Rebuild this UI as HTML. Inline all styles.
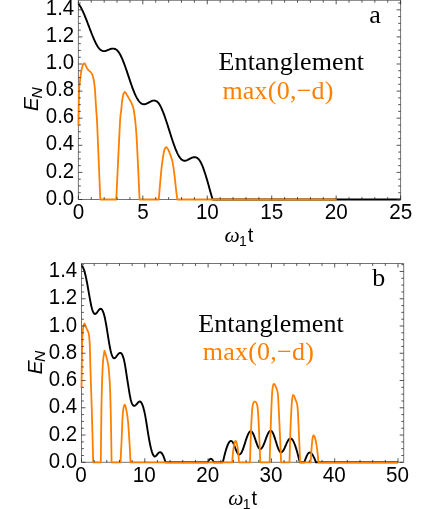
<!DOCTYPE html>
<html><head><meta charset="utf-8"><title>Entanglement</title>
<style>
html,body{margin:0;padding:0;background:#fff;}
body{width:436px;height:509px;overflow:hidden;font-family:"Liberation Sans",sans-serif;}
svg{display:block;}
.tl text{font-family:"Liberation Sans",sans-serif;fill:#000;}
.serif{font-family:"Liberation Serif",serif;font-size:26px;}
</style></head>
<body>
<svg width="436" height="509" viewBox="0 0 436 509" style="will-change:transform">
<rect width="436" height="509" fill="#fff"/>
<!-- plot a -->
<path d="M78.4,0.3H400.6V199.5H78.4Z" fill="none" stroke="#505050" stroke-width="0.8"/>
<path d="M78.50,3.90L79.00,4.52L79.50,5.22L80.00,5.97L80.50,6.79L81.00,7.67L81.50,8.60L82.00,9.58L82.50,10.61L83.00,11.68L83.50,12.80L84.00,13.94L84.50,15.13L85.00,16.34L85.51,17.58L86.01,18.84L86.51,20.12L87.01,21.42L87.51,22.73L88.01,24.05L88.51,25.37L89.01,26.70L89.51,28.03L90.01,29.35L90.51,30.66L91.01,31.96L91.51,33.24L92.01,34.51L92.51,35.75L93.01,36.96L93.51,38.15L94.01,39.31L94.51,40.42L95.01,41.50L95.51,42.54L96.01,43.53L96.51,44.46L97.01,45.35L97.51,46.17L98.01,46.94L98.51,47.64L99.02,48.28L99.52,48.85L100.02,49.35L100.52,49.79L101.02,50.17L101.52,50.48L102.02,50.73L102.52,50.92L103.02,51.05L103.52,51.12L104.02,51.13L104.52,51.10L105.02,51.02L105.52,50.90L106.02,50.76L106.52,50.58L107.02,50.39L107.52,50.19L108.02,49.98L108.52,49.77L109.02,49.56L109.52,49.36L110.02,49.18L110.52,49.02L111.02,48.88L111.52,48.76L112.03,48.67L112.53,48.62L113.03,48.60L113.53,48.63L114.03,48.69L114.53,48.81L115.03,48.98L115.53,49.20L116.03,49.49L116.53,49.84L117.03,50.25L117.53,50.74L118.03,51.30L118.53,51.94L119.03,52.66L119.53,53.45L120.03,54.32L120.53,55.25L121.03,56.25L121.53,57.31L122.03,58.43L122.53,59.60L123.03,60.82L123.53,62.08L124.03,63.38L124.53,64.73L125.03,66.11L125.54,67.52L126.04,68.95L126.54,70.41L127.04,71.89L127.54,73.38L128.04,74.88L128.54,76.39L129.04,77.90L129.54,79.40L130.04,80.90L130.54,82.38L131.04,83.84L131.54,85.28L132.04,86.69L132.54,88.06L133.04,89.40L133.54,90.70L134.04,91.95L134.54,93.15L135.04,94.29L135.54,95.38L136.04,96.40L136.54,97.36L137.04,98.26L137.54,99.10L138.04,99.88L138.54,100.60L139.05,101.26L139.55,101.85L140.05,102.37L140.55,102.84L141.05,103.24L141.55,103.57L142.05,103.84L142.55,104.04L143.05,104.18L143.55,104.25L144.05,104.26L144.55,104.21L145.05,104.12L145.55,103.98L146.05,103.81L146.55,103.60L147.05,103.37L147.55,103.13L148.05,102.86L148.55,102.59L149.05,102.32L149.55,102.05L150.05,101.79L150.55,101.55L151.05,101.32L151.55,101.11L152.05,100.93L152.56,100.78L153.06,100.67L153.56,100.60L154.06,100.57L154.56,100.60L155.06,100.67L155.56,100.81L156.06,101.01L156.56,101.28L157.06,101.63L157.56,102.05L158.06,102.55L158.56,103.14L159.06,103.82L159.56,104.59L160.06,105.44L160.56,106.36L161.06,107.36L161.56,108.43L162.06,109.57L162.56,110.76L163.06,112.01L163.56,113.31L164.06,114.66L164.56,116.05L165.06,117.48L165.56,118.95L166.07,120.44L166.57,121.96L167.07,123.50L167.57,125.06L168.07,126.63L168.57,128.21L169.07,129.80L169.57,131.39L170.07,132.97L170.57,134.55L171.07,136.11L171.57,137.67L172.07,139.20L172.57,140.71L173.07,142.19L173.57,143.64L174.07,145.05L174.57,146.43L175.07,147.76L175.57,149.05L176.07,150.28L176.57,151.46L177.07,152.58L177.57,153.63L178.07,154.62L178.57,155.54L179.07,156.38L179.58,157.15L180.08,157.84L180.58,158.46L181.08,159.00L181.58,159.47L182.08,159.87L182.58,160.20L183.08,160.45L183.58,160.62L184.08,160.73L184.58,160.77L185.08,160.75L185.58,160.67L186.08,160.55L186.58,160.38L187.08,160.18L187.58,159.95L188.08,159.70L188.58,159.44L189.08,159.17L189.58,158.90L190.08,158.63L190.58,158.37L191.08,158.13L191.58,157.90L192.08,157.70L192.59,157.53L193.09,157.38L193.59,157.28L194.09,157.21L194.59,157.19L195.09,157.22L195.59,157.30L196.09,157.44L196.59,157.64L197.09,157.91L197.59,158.25L198.09,158.67L198.59,159.17L199.09,159.75L199.59,160.42L200.09,161.19L200.59,162.05L201.09,163.01L201.59,164.06L202.09,165.19L202.59,166.41L203.09,167.69L203.59,169.05L204.09,170.48L204.59,171.96L205.09,173.50L205.59,175.08L206.10,176.71L206.60,178.38L207.10,180.09L207.60,181.82L208.10,183.58L208.60,185.35L209.10,187.14L209.60,188.94L210.10,190.74L210.60,192.53L211.10,194.31L211.60,196.07L212.10,197.80L212.60,199.50L212.60,199.50L400.60,199.50" fill="none" stroke="#000" stroke-width="1.9" stroke-linejoin="round"/>
<path d="M78.50,126.00C78.60,120.08 78.83,98.15 79.10,90.50C79.37,82.85 79.75,83.20 80.10,80.10C80.45,77.00 80.78,74.28 81.20,71.90C81.62,69.52 82.20,67.13 82.60,65.80C83.00,64.47 83.28,64.30 83.60,63.90C83.92,63.50 84.20,63.28 84.50,63.40C84.80,63.52 85.10,64.03 85.40,64.60C85.70,65.17 85.85,65.95 86.30,66.80C86.75,67.65 87.40,68.83 88.10,69.70C88.80,70.57 89.85,71.32 90.50,72.00C91.15,72.68 91.75,73.50 92.00,73.80L92.00,73.80C92.27,74.72 93.20,77.52 93.60,79.30C94.00,81.08 94.15,82.47 94.40,84.50C94.65,86.53 94.80,87.32 95.10,91.50C95.40,95.68 95.85,104.02 96.20,109.60C96.55,115.18 96.52,110.02 97.20,125.00C97.88,139.98 99.78,187.08 100.30,199.50L100.30,199.50L116.30,199.50L116.30,199.50C116.90,186.92 119.10,138.65 119.90,124.00C120.70,109.35 120.72,115.55 121.10,111.60C121.48,107.65 121.82,103.20 122.20,100.30C122.58,97.40 123.05,95.52 123.40,94.20C123.75,92.88 124.02,92.77 124.30,92.40C124.58,92.03 124.82,91.85 125.10,92.00C125.38,92.15 125.62,92.67 126.00,93.30C126.38,93.93 126.78,94.73 127.40,95.80C128.02,96.87 129.00,98.47 129.70,99.70C130.40,100.93 131.28,102.62 131.60,103.20L131.60,103.20C131.88,103.97 132.83,105.97 133.30,107.80C133.77,109.63 134.03,111.60 134.40,114.20C134.77,116.80 135.08,118.68 135.50,123.40C135.92,128.12 136.22,129.82 136.90,142.50C137.58,155.18 139.15,190.00 139.60,199.50L139.60,199.50L158.80,199.50L158.80,199.50C159.07,196.27 159.87,186.00 160.40,180.10C160.93,174.20 161.42,168.78 162.00,164.10C162.58,159.42 163.40,154.62 163.90,152.00C164.40,149.38 164.63,149.20 165.00,148.40C165.37,147.60 165.72,147.23 166.10,147.20C166.48,147.17 166.87,147.63 167.30,148.20C167.73,148.77 167.87,148.48 168.70,150.60C169.53,152.72 171.33,156.78 172.30,160.90C173.27,165.02 173.90,170.75 174.50,175.30C175.10,179.85 175.43,184.17 175.90,188.20C176.37,192.23 177.07,197.62 177.30,199.50L177.30,199.50L336.90,199.50" fill="none" stroke="#ff8000" stroke-width="1.8" stroke-linejoin="round"/>
<path d="M91.29,199.5v-2.4M91.29,0.3v2.4M104.18,199.5v-2.4M104.18,0.3v2.4M117.06,199.5v-2.4M117.06,0.3v2.4M129.95,199.5v-2.4M129.95,0.3v2.4M155.73,199.5v-2.4M155.73,0.3v2.4M168.62,199.5v-2.4M168.62,0.3v2.4M181.50,199.5v-2.4M181.50,0.3v2.4M194.39,199.5v-2.4M194.39,0.3v2.4M220.17,199.5v-2.4M220.17,0.3v2.4M233.06,199.5v-2.4M233.06,0.3v2.4M245.94,199.5v-2.4M245.94,0.3v2.4M258.83,199.5v-2.4M258.83,0.3v2.4M284.61,199.5v-2.4M284.61,0.3v2.4M297.50,199.5v-2.4M297.50,0.3v2.4M310.38,199.5v-2.4M310.38,0.3v2.4M323.27,199.5v-2.4M323.27,0.3v2.4M349.05,199.5v-2.4M349.05,0.3v2.4M361.94,199.5v-2.4M361.94,0.3v2.4M374.82,199.5v-2.4M374.82,0.3v2.4M387.71,199.5v-2.4M387.71,0.3v2.4M78.40,199.5v-4.0M78.40,0.3v4.0M142.84,199.5v-4.0M142.84,0.3v4.0M207.28,199.5v-4.0M207.28,0.3v4.0M271.72,199.5v-4.0M271.72,0.3v4.0M336.16,199.5v-4.0M336.16,0.3v4.0M400.60,199.5v-4.0M400.60,0.3v4.0M78.4,192.72h2.4M400.6,192.72h-2.4M78.4,185.95h2.4M400.6,185.95h-2.4M78.4,179.18h2.4M400.6,179.18h-2.4M78.4,165.62h2.4M400.6,165.62h-2.4M78.4,158.85h2.4M400.6,158.85h-2.4M78.4,152.07h2.4M400.6,152.07h-2.4M78.4,138.53h2.4M400.6,138.53h-2.4M78.4,131.75h2.4M400.6,131.75h-2.4M78.4,124.97h2.4M400.6,124.97h-2.4M78.4,111.42h2.4M400.6,111.42h-2.4M78.4,104.65h2.4M400.6,104.65h-2.4M78.4,97.88h2.4M400.6,97.88h-2.4M78.4,84.32h2.4M400.6,84.32h-2.4M78.4,77.55h2.4M400.6,77.55h-2.4M78.4,70.77h2.4M400.6,70.77h-2.4M78.4,57.22h2.4M400.6,57.22h-2.4M78.4,50.45h2.4M400.6,50.45h-2.4M78.4,43.67h2.4M400.6,43.67h-2.4M78.4,30.12h2.4M400.6,30.12h-2.4M78.4,23.35h2.4M400.6,23.35h-2.4M78.4,16.57h2.4M400.6,16.57h-2.4M78.4,3.02h2.4M400.6,3.02h-2.4M78.4,199.50h4.0M400.6,199.50h-4.0M78.4,172.40h4.0M400.6,172.40h-4.0M78.4,145.30h4.0M400.6,145.30h-4.0M78.4,118.20h4.0M400.6,118.20h-4.0M78.4,91.10h4.0M400.6,91.10h-4.0M78.4,64.00h4.0M400.6,64.00h-4.0M78.4,36.90h4.0M400.6,36.90h-4.0M78.4,9.80h4.0M400.6,9.80h-4.0" fill="none" stroke="#2a2a2a" stroke-width="0.8"/>
<g class="tl"><text x="74.2" y="205.20" font-size="21.4" text-anchor="end" textLength="28.41" lengthAdjust="spacingAndGlyphs">0.0</text><text x="74.2" y="177.50" font-size="21.4" text-anchor="end" textLength="28.41" lengthAdjust="spacingAndGlyphs">0.2</text><text x="74.2" y="150.40" font-size="21.4" text-anchor="end" textLength="28.41" lengthAdjust="spacingAndGlyphs">0.4</text><text x="74.2" y="123.30" font-size="21.4" text-anchor="end" textLength="28.41" lengthAdjust="spacingAndGlyphs">0.6</text><text x="74.2" y="96.20" font-size="21.4" text-anchor="end" textLength="28.41" lengthAdjust="spacingAndGlyphs">0.8</text><text x="74.2" y="69.10" font-size="21.4" text-anchor="end" textLength="28.41" lengthAdjust="spacingAndGlyphs">1.0</text><text x="74.2" y="42.00" font-size="21.4" text-anchor="end" textLength="28.41" lengthAdjust="spacingAndGlyphs">1.2</text><text x="74.2" y="14.90" font-size="21.4" text-anchor="end" textLength="28.41" lengthAdjust="spacingAndGlyphs">1.4</text><text x="78.50" y="219.0" font-size="22.0" text-anchor="middle" textLength="11.50" lengthAdjust="spacingAndGlyphs">0</text><text x="142.94" y="219.0" font-size="22.0" text-anchor="middle" textLength="11.50" lengthAdjust="spacingAndGlyphs">5</text><text x="207.38" y="219.0" font-size="22.0" text-anchor="middle" textLength="23.00" lengthAdjust="spacingAndGlyphs">10</text><text x="271.82" y="219.0" font-size="22.0" text-anchor="middle" textLength="23.00" lengthAdjust="spacingAndGlyphs">15</text><text x="336.26" y="219.0" font-size="22.0" text-anchor="middle" textLength="23.00" lengthAdjust="spacingAndGlyphs">20</text><text x="400.70" y="219.0" font-size="22.0" text-anchor="middle" textLength="23.00" lengthAdjust="spacingAndGlyphs">25</text></g>
<text class="serif" x="218.6" y="69.7" fill="#000" textLength="145.4" lengthAdjust="spacing">Entanglement</text>
<text class="serif" x="222.4" y="98.5" fill="#ff8000" textLength="111" lengthAdjust="spacing">max(0,−d)</text>
<text class="serif" x="369.3" y="22.7" fill="#000">a</text>
<text x="224.4" y="241.5" font-size="20"><tspan font-family="Liberation Serif" font-style="italic" font-size="21.5">ω</tspan><tspan font-family="Liberation Sans" font-size="14" dx="-0.7" dy="4.2">1</tspan><tspan font-family="Liberation Sans" font-size="20" dx="1.0" dy="-4.2">t</tspan></text>
<g transform="translate(38.2,111.2) rotate(-90)"><text font-family="Liberation Sans" font-style="italic" font-size="21" x="0" y="0">E<tspan font-size="15.5" dx="-1.4" dy="3.4">N</tspan></text></g>
<!-- plot b -->
<path d="M81.5,263.5H403.7V462.3H81.5Z" fill="none" stroke="#505050" stroke-width="0.8"/>
<path d="M81.50,265.90L81.90,266.05L82.30,266.41L82.70,266.94L83.10,267.66L83.50,268.55L83.90,269.61L84.30,270.82L84.70,272.18L85.10,273.69L85.50,275.32L85.90,277.09L86.30,278.97L86.70,280.96L87.10,283.05L87.50,285.24L87.90,287.49L88.30,289.78L88.70,292.09L89.10,294.40L89.50,296.67L89.90,298.89L90.30,301.03L90.70,303.07L91.10,304.98L91.50,306.74L91.90,308.32L92.30,309.70L92.70,310.89L93.10,311.88L93.50,312.67L93.90,313.28L94.30,313.70L94.70,313.93L95.10,313.99L95.50,313.88L95.90,313.63L96.30,313.26L96.70,312.81L97.10,312.31L97.50,311.77L97.90,311.22L98.30,310.68L98.70,310.17L99.10,309.71L99.50,309.32L99.90,309.03L100.30,308.84L100.70,308.79L101.10,308.89L101.50,309.14L101.90,309.55L102.30,310.13L102.70,310.87L103.10,311.78L103.50,312.87L103.90,314.14L104.30,315.59L104.70,317.24L105.10,319.07L105.50,321.07L105.90,323.22L106.30,325.51L106.70,327.90L107.10,330.38L107.50,332.91L107.90,335.46L108.30,337.99L108.70,340.47L109.10,342.87L109.50,345.15L109.90,347.28L110.30,349.23L110.70,350.99L111.10,352.56L111.50,353.94L111.90,355.14L112.30,356.14L112.70,356.95L113.10,357.57L113.50,357.99L113.90,358.22L114.30,358.26L114.70,358.13L115.10,357.86L115.50,357.49L115.90,357.04L116.30,356.54L116.70,356.02L117.10,355.50L117.50,354.98L117.90,354.48L118.30,354.03L118.70,353.63L119.10,353.29L119.50,353.04L119.90,352.89L120.30,352.86L120.70,352.95L121.10,353.18L121.50,353.56L121.90,354.11L122.30,354.82L122.70,355.72L123.10,356.82L123.50,358.11L123.90,359.62L124.30,361.36L124.70,363.34L125.10,365.55L125.50,367.97L125.90,370.52L126.30,373.14L126.70,375.76L127.10,378.34L127.50,380.90L127.90,383.42L128.30,385.93L128.70,388.43L129.10,390.90L129.50,393.30L129.90,395.56L130.30,397.62L130.70,399.43L131.10,400.98L131.50,402.28L131.90,403.35L132.30,404.20L132.70,404.86L133.10,405.34L133.50,405.65L133.90,405.81L134.30,405.83L134.70,405.74L135.10,405.54L135.50,405.26L135.90,404.90L136.30,404.50L136.70,404.05L137.10,403.58L137.50,403.12L137.90,402.67L138.30,402.27L138.70,401.94L139.10,401.68L139.50,401.54L139.90,401.51L140.30,401.64L140.70,401.91L141.10,402.34L141.50,402.92L141.90,403.65L142.30,404.54L142.70,405.58L143.10,406.78L143.50,408.14L143.90,409.66L144.30,411.33L144.70,413.17L145.10,415.16L145.50,417.32L145.90,419.61L146.30,422.01L146.70,424.48L147.10,427.01L147.50,429.55L147.90,432.08L148.30,434.56L148.70,436.97L149.10,439.28L149.50,441.46L149.90,443.52L150.30,445.44L150.70,447.23L151.10,448.88L151.50,450.38L151.90,451.73L152.30,452.92L152.70,453.95L153.10,454.81L153.50,455.51L153.90,456.02L154.30,456.35L154.70,456.49L155.10,456.45L155.50,456.25L155.90,455.93L156.30,455.52L156.70,455.04L157.10,454.54L157.50,454.04L157.90,453.57L158.30,453.14L158.70,452.78L159.10,452.50L159.50,452.30L159.90,452.20L160.30,452.21L160.70,452.34L161.10,452.58L161.50,452.94L161.90,453.41L162.30,453.99L162.70,454.68L163.10,455.48L163.50,456.37L163.90,457.37L164.30,458.46L164.70,459.65L165.10,460.93L165.50,462.30L165.50,462.30L207.70,462.30L207.70,462.30C207.83,462.07 208.23,461.35 208.50,460.92C208.77,460.50 209.03,460.08 209.30,459.75C209.57,459.43 209.83,459.15 210.10,458.97C210.37,458.80 210.64,458.70 210.90,458.70C211.16,458.70 211.40,458.80 211.65,458.97C211.90,459.15 212.15,459.43 212.40,459.75C212.65,460.08 212.90,460.50 213.15,460.92C213.40,461.35 213.78,462.07 213.90,462.30L213.90,462.30L222.60,462.30L222.80,462.30C223.03,461.38 223.71,458.54 224.17,456.76C224.62,454.98 225.08,453.20 225.53,451.60C225.99,450.00 226.44,448.47 226.90,447.17C227.36,445.86 227.81,444.69 228.27,443.77C228.72,442.84 229.18,442.11 229.63,441.63C230.09,441.15 230.60,440.93 231.00,440.90C231.40,440.87 231.69,441.09 232.04,441.42C232.38,441.76 232.73,442.29 233.07,442.91C233.42,443.52 233.77,444.32 234.11,445.13C234.46,445.94 234.80,446.88 235.15,447.75C235.50,448.62 235.84,449.56 236.19,450.37C236.53,451.18 236.88,451.98 237.23,452.59C237.57,453.21 237.92,453.74 238.26,454.08C238.61,454.41 238.89,454.66 239.30,454.60C239.71,454.54 240.26,454.28 240.74,453.71C241.22,453.13 241.70,452.22 242.18,451.16C242.65,450.10 243.13,448.73 243.61,447.35C244.09,445.96 244.57,444.35 245.05,442.85C245.53,441.35 246.01,439.74 246.49,438.35C246.97,436.97 247.45,435.60 247.93,434.54C248.40,433.48 248.88,432.57 249.36,431.99C249.84,431.42 250.36,431.13 250.80,431.10C251.24,431.07 251.59,431.35 251.99,431.79C252.38,432.22 252.78,432.92 253.18,433.74C253.57,434.55 253.97,435.60 254.36,436.66C254.76,437.72 255.15,438.95 255.55,440.10C255.95,441.25 256.34,442.48 256.74,443.54C257.13,444.60 257.53,445.65 257.93,446.46C258.32,447.28 258.72,447.98 259.11,448.41C259.51,448.85 259.89,449.10 260.30,449.10C260.71,449.10 261.17,448.85 261.60,448.40C262.03,447.95 262.47,447.24 262.90,446.41C263.33,445.58 263.77,444.50 264.20,443.42C264.63,442.34 265.07,441.07 265.50,439.90C265.93,438.73 266.37,437.46 266.80,436.38C267.23,435.30 267.67,434.22 268.10,433.39C268.53,432.56 268.97,431.85 269.40,431.40C269.83,430.95 270.27,430.68 270.70,430.70C271.13,430.72 271.57,431.00 272.00,431.53C272.43,432.06 272.87,432.90 273.30,433.88C273.73,434.86 274.17,436.12 274.60,437.40C275.03,438.68 275.47,440.17 275.90,441.55C276.33,442.93 276.77,444.42 277.20,445.70C277.63,446.98 278.07,448.24 278.50,449.22C278.93,450.20 279.37,451.04 279.80,451.57C280.23,452.10 280.69,452.35 281.10,452.40C281.51,452.45 281.88,452.21 282.26,451.87C282.65,451.53 283.04,450.98 283.43,450.35C283.81,449.72 284.20,448.90 284.59,448.08C284.97,447.25 285.36,446.29 285.75,445.40C286.14,444.51 286.53,443.55 286.91,442.72C287.30,441.90 287.69,441.08 288.07,440.45C288.46,439.82 288.85,439.27 289.24,438.93C289.62,438.59 289.95,438.35 290.40,438.40C290.85,438.45 291.44,438.68 291.97,439.21C292.49,439.75 293.01,440.57 293.53,441.60C294.06,442.63 294.58,443.94 295.10,445.40C295.62,446.86 296.14,448.56 296.67,450.35C297.19,452.14 297.71,454.12 298.23,456.11C298.76,458.11 299.54,461.27 299.80,462.30L299.80,462.30L304.30,462.30L304.30,462.30C304.45,461.88 304.91,460.58 305.22,459.76C305.52,458.95 305.83,458.13 306.13,457.40C306.44,456.67 306.74,455.97 307.05,455.37C307.36,454.77 307.66,454.24 307.97,453.81C308.27,453.39 308.58,453.05 308.88,452.83C309.19,452.62 309.48,452.50 309.80,452.50C310.12,452.50 310.49,452.62 310.83,452.83C311.18,453.05 311.52,453.39 311.87,453.81C312.21,454.24 312.56,454.77 312.90,455.37C313.24,455.97 313.59,456.67 313.93,457.40C314.28,458.13 314.62,458.95 314.97,459.76C315.31,460.58 315.83,461.88 316.00,462.30L316.00,462.30L397.90,462.30" fill="none" stroke="#000" stroke-width="1.9" stroke-linejoin="round"/>
<path d="M81.50,388.10C81.62,380.25 81.90,351.18 82.20,341.00C82.50,330.82 82.92,329.92 83.30,327.00C83.68,324.08 84.30,324.08 84.50,323.50L84.50,323.50C84.85,324.33 85.90,326.80 86.60,328.50C87.30,330.20 88.17,330.88 88.70,333.70C89.23,336.52 89.52,339.77 89.80,345.40C90.08,351.03 90.07,356.73 90.40,367.50C90.73,378.27 91.33,394.20 91.80,410.00C92.27,425.80 92.97,453.58 93.20,462.30L93.20,462.30L100.80,462.30L100.80,462.30C100.90,453.58 101.18,423.50 101.40,410.00C101.62,396.50 101.82,389.53 102.10,381.30C102.38,373.07 102.70,365.70 103.10,360.60C103.50,355.50 104.27,352.35 104.50,350.70L104.50,350.70C104.80,351.67 105.67,354.05 106.30,356.50C106.93,358.95 107.73,361.27 108.30,365.40C108.87,369.53 109.30,373.87 109.70,381.30C110.10,388.73 110.38,396.50 110.70,410.00C111.02,423.50 111.45,453.58 111.60,462.30L111.60,462.30L120.50,462.30L120.50,462.30C120.70,458.28 121.32,446.23 121.70,438.20C122.08,430.17 122.32,419.67 122.80,414.10C123.28,408.53 123.98,405.33 124.60,404.80C125.22,404.27 125.92,408.02 126.50,410.90C127.08,413.78 127.57,416.22 128.10,422.10C128.63,427.98 129.30,439.50 129.70,446.20C130.10,452.90 130.37,459.62 130.50,462.30L130.50,462.30L232.20,462.30L232.20,462.30C232.29,461.01 232.58,456.68 232.77,454.57C232.96,452.46 233.14,451.08 233.33,449.63C233.52,448.19 233.71,446.95 233.90,445.88C234.09,444.80 234.28,443.90 234.47,443.18C234.66,442.46 234.84,441.91 235.03,441.55C235.22,441.18 235.41,441.00 235.60,441.00C235.79,441.00 235.98,441.18 236.17,441.55C236.36,441.91 236.54,442.46 236.73,443.18C236.92,443.90 237.11,444.80 237.30,445.88C237.49,446.95 237.68,448.19 237.87,449.63C238.06,451.08 238.24,452.46 238.43,454.57C238.62,456.68 238.91,461.01 239.00,462.30L239.00,462.30L250.00,462.30L250.00,462.30C250.17,457.08 250.58,440.27 251.00,431.00C251.42,421.73 251.88,411.58 252.50,406.70C253.12,401.82 253.90,401.90 254.70,401.70C255.50,401.50 256.65,402.18 257.30,405.50C257.95,408.82 258.10,412.13 258.60,421.60C259.10,431.07 260.02,455.52 260.30,462.30L260.30,462.30L269.60,462.30L269.60,462.30C269.82,455.52 270.47,433.35 270.90,421.60C271.33,409.85 271.73,398.07 272.20,391.80C272.67,385.53 273.08,384.78 273.70,384.00C274.32,383.22 275.22,385.48 275.90,387.10C276.58,388.72 277.30,389.50 277.80,393.70C278.30,397.90 278.50,404.53 278.90,412.30C279.30,420.07 279.83,431.97 280.20,440.30C280.57,448.63 280.95,458.63 281.10,462.30L281.10,462.30L289.50,462.30L289.50,462.30C289.65,457.08 290.02,440.88 290.40,431.00C290.78,421.12 291.33,408.98 291.80,403.00C292.27,397.02 292.55,395.57 293.20,395.10C293.85,394.63 294.98,398.27 295.70,400.20C296.42,402.13 296.98,401.57 297.50,406.70C298.02,411.83 298.37,421.73 298.80,431.00C299.23,440.27 299.88,457.08 300.10,462.30L300.10,462.30L310.70,462.30L310.70,462.30C310.78,460.88 311.01,456.26 311.17,453.77C311.32,451.29 311.48,449.29 311.63,447.38C311.79,445.46 311.94,443.74 312.10,442.26C312.26,440.78 312.41,439.51 312.57,438.50C312.72,437.48 312.88,436.70 313.03,436.18C313.19,435.67 313.31,435.44 313.50,435.40C313.69,435.36 313.97,435.58 314.20,435.94C314.43,436.30 314.67,436.84 314.90,437.55C315.13,438.26 315.37,439.16 315.60,440.21C315.83,441.26 316.07,442.48 316.30,443.87C316.53,445.25 316.77,446.78 317.00,448.51C317.23,450.23 317.47,451.92 317.70,454.22C317.93,456.51 318.28,460.95 318.40,462.30L318.40,462.30L397.90,462.30" fill="none" stroke="#ff8000" stroke-width="1.8" stroke-linejoin="round"/>
<path d="M94.16,462.3v-2.4M94.16,263.5v2.4M106.82,462.3v-2.4M106.82,263.5v2.4M119.48,462.3v-2.4M119.48,263.5v2.4M132.14,462.3v-2.4M132.14,263.5v2.4M157.46,462.3v-2.4M157.46,263.5v2.4M170.12,462.3v-2.4M170.12,263.5v2.4M182.78,462.3v-2.4M182.78,263.5v2.4M195.44,462.3v-2.4M195.44,263.5v2.4M220.76,462.3v-2.4M220.76,263.5v2.4M233.42,462.3v-2.4M233.42,263.5v2.4M246.08,462.3v-2.4M246.08,263.5v2.4M258.74,462.3v-2.4M258.74,263.5v2.4M284.06,462.3v-2.4M284.06,263.5v2.4M296.72,462.3v-2.4M296.72,263.5v2.4M309.38,462.3v-2.4M309.38,263.5v2.4M322.04,462.3v-2.4M322.04,263.5v2.4M347.36,462.3v-2.4M347.36,263.5v2.4M360.02,462.3v-2.4M360.02,263.5v2.4M372.68,462.3v-2.4M372.68,263.5v2.4M385.34,462.3v-2.4M385.34,263.5v2.4M81.50,462.3v-4.0M81.50,263.5v4.0M144.80,462.3v-4.0M144.80,263.5v4.0M208.10,462.3v-4.0M208.10,263.5v4.0M271.40,462.3v-4.0M271.40,263.5v4.0M334.70,462.3v-4.0M334.70,263.5v4.0M398.00,462.3v-4.0M398.00,263.5v4.0M81.5,455.49h2.4M403.7,455.49h-2.4M81.5,448.67h2.4M403.7,448.67h-2.4M81.5,441.86h2.4M403.7,441.86h-2.4M81.5,428.23h2.4M403.7,428.23h-2.4M81.5,421.41h2.4M403.7,421.41h-2.4M81.5,414.60h2.4M403.7,414.60h-2.4M81.5,400.97h2.4M403.7,400.97h-2.4M81.5,394.15h2.4M403.7,394.15h-2.4M81.5,387.33h2.4M403.7,387.33h-2.4M81.5,373.70h2.4M403.7,373.70h-2.4M81.5,366.89h2.4M403.7,366.89h-2.4M81.5,360.07h2.4M403.7,360.07h-2.4M81.5,346.44h2.4M403.7,346.44h-2.4M81.5,339.63h2.4M403.7,339.63h-2.4M81.5,332.81h2.4M403.7,332.81h-2.4M81.5,319.19h2.4M403.7,319.19h-2.4M81.5,312.37h2.4M403.7,312.37h-2.4M81.5,305.55h2.4M403.7,305.55h-2.4M81.5,291.93h2.4M403.7,291.93h-2.4M81.5,285.11h2.4M403.7,285.11h-2.4M81.5,278.29h2.4M403.7,278.29h-2.4M81.5,264.66h2.4M403.7,264.66h-2.4M81.5,462.30h4.0M403.7,462.30h-4.0M81.5,435.04h4.0M403.7,435.04h-4.0M81.5,407.78h4.0M403.7,407.78h-4.0M81.5,380.52h4.0M403.7,380.52h-4.0M81.5,353.26h4.0M403.7,353.26h-4.0M81.5,326.00h4.0M403.7,326.00h-4.0M81.5,298.74h4.0M403.7,298.74h-4.0M81.5,271.48h4.0M403.7,271.48h-4.0" fill="none" stroke="#2a2a2a" stroke-width="0.8"/>
<g class="tl"><text x="77.2" y="468.40" font-size="21.4" text-anchor="end" textLength="28.41" lengthAdjust="spacingAndGlyphs">0.0</text><text x="77.2" y="440.54" font-size="21.4" text-anchor="end" textLength="28.41" lengthAdjust="spacingAndGlyphs">0.2</text><text x="77.2" y="413.28" font-size="21.4" text-anchor="end" textLength="28.41" lengthAdjust="spacingAndGlyphs">0.4</text><text x="77.2" y="386.02" font-size="21.4" text-anchor="end" textLength="28.41" lengthAdjust="spacingAndGlyphs">0.6</text><text x="77.2" y="358.76" font-size="21.4" text-anchor="end" textLength="28.41" lengthAdjust="spacingAndGlyphs">0.8</text><text x="77.2" y="331.50" font-size="21.4" text-anchor="end" textLength="28.41" lengthAdjust="spacingAndGlyphs">1.0</text><text x="77.2" y="304.24" font-size="21.4" text-anchor="end" textLength="28.41" lengthAdjust="spacingAndGlyphs">1.2</text><text x="77.2" y="276.98" font-size="21.4" text-anchor="end" textLength="28.41" lengthAdjust="spacingAndGlyphs">1.4</text><text x="81.05" y="481.6" font-size="22.0" text-anchor="middle" textLength="11.50" lengthAdjust="spacingAndGlyphs">0</text><text x="144.35" y="481.6" font-size="22.0" text-anchor="middle" textLength="23.00" lengthAdjust="spacingAndGlyphs">10</text><text x="207.65" y="481.6" font-size="22.0" text-anchor="middle" textLength="23.00" lengthAdjust="spacingAndGlyphs">20</text><text x="270.95" y="481.6" font-size="22.0" text-anchor="middle" textLength="23.00" lengthAdjust="spacingAndGlyphs">30</text><text x="334.25" y="481.6" font-size="22.0" text-anchor="middle" textLength="23.00" lengthAdjust="spacingAndGlyphs">40</text><text x="397.55" y="481.6" font-size="22.0" text-anchor="middle" textLength="23.00" lengthAdjust="spacingAndGlyphs">50</text></g>
<text class="serif" x="198.3" y="332" fill="#000" textLength="145.4" lengthAdjust="spacing">Entanglement</text>
<text class="serif" x="202.8" y="360.4" fill="#ff8000" textLength="111" lengthAdjust="spacing">max(0,−d)</text>
<text class="serif" x="372.2" y="285.6" fill="#000">b</text>
<text x="228.3" y="504.8" font-size="20"><tspan font-family="Liberation Serif" font-style="italic" font-size="21.5">ω</tspan><tspan font-family="Liberation Sans" font-size="14" dx="-0.7" dy="4.2">1</tspan><tspan font-family="Liberation Sans" font-size="20" dx="1.0" dy="-4.2">t</tspan></text>
<g transform="translate(42.0,374.6) rotate(-90)"><text font-family="Liberation Sans" font-style="italic" font-size="21" x="0" y="0">E<tspan font-size="15.5" dx="-1.4" dy="3.4">N</tspan></text></g>
</svg>
</body></html>
